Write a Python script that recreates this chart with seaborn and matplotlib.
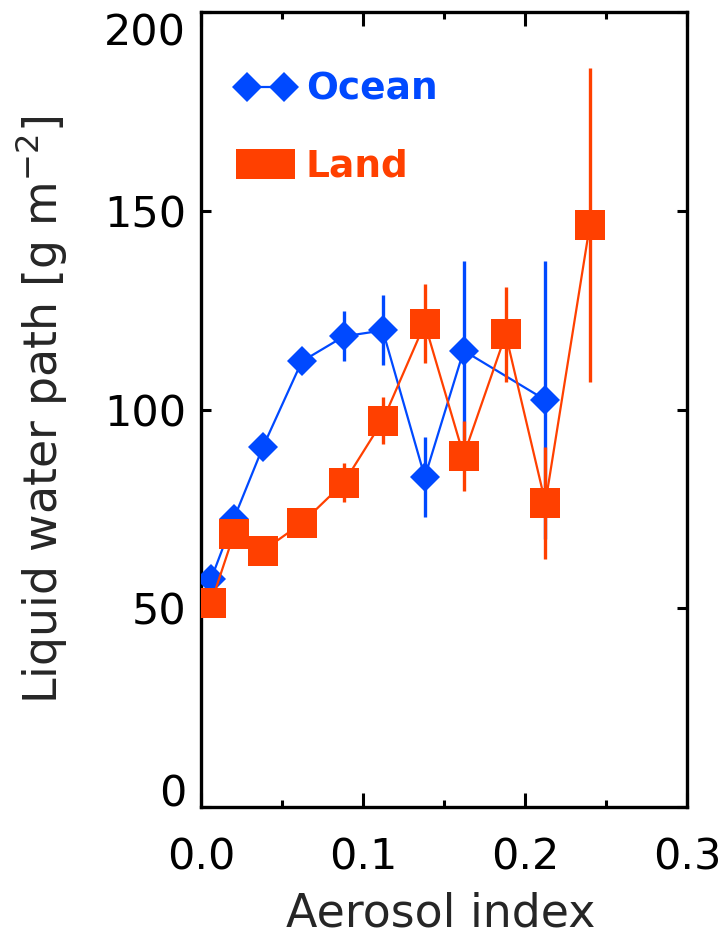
import matplotlib
matplotlib.use('Agg')
import matplotlib.pyplot as plt
import seaborn as sns
from matplotlib.ticker import MultipleLocator
from matplotlib.legend_handler import HandlerLine2D

# values
ocean_x = [0.006, 0.020, 0.038, 0.062, 0.088, 0.112, 0.138, 0.162, 0.2125]
ocean_lwp = [57.4, 72.5, 90.6, 112.1, 118.4, 119.9, 83.0, 114.8, 102.4]
ocean_err = [2, 2, 3, 3, 6.3, 8.8, 10.1, 22.5, 35.0]

land_x = [0.006, 0.020, 0.038, 0.062, 0.088, 0.112, 0.138, 0.162, 0.188, 0.2125, 0.240]
land_lwp = [51.4, 68.6, 64.5, 71.4, 81.6, 97.2, 121.6, 88.4, 118.9, 76.5, 146.5]
land_err = [2, 2, 2, 3, 4.9, 5.9, 9.9, 8.8, 12.0, 14.0, 39.5]

x_ticks = [0.0, 0.1, 0.2, 0.3]
x_tick_labels = ['0.0', '0.1', '0.2', '0.3']
y_ticks = [0, 50, 100, 150, 200]
y_tick_labels = ['0', '50', '100', '150', '200']

BLUE = '#0049FF'
ORANGE = '#FF4000'

sns.set_style('ticks')
plt.rcParams['font.family'] = ['DejaVu Sans']

fig = plt.figure(figsize=(7.25, 9.4), dpi=100)
ax = fig.add_axes([0.2779, 0.1415, 0.6697, 0.8457])

# ocean series
ax.errorbar(ocean_x, ocean_lwp, yerr=ocean_err, fmt='none', ecolor=BLUE,
            elinewidth=2.4, capsize=0, zorder=2)
sns.lineplot(x=ocean_x, y=ocean_lwp, ax=ax, color=BLUE, marker='D', markersize=15.5,
             markeredgewidth=0, linewidth=1.6, label='Ocean', sort=False,
             errorbar=None, zorder=3)

# land series on top
ax.errorbar(land_x, land_lwp, yerr=land_err, fmt='none', ecolor=ORANGE,
            elinewidth=2.4, capsize=0, zorder=4)
sns.lineplot(x=land_x, y=land_lwp, ax=ax, color=ORANGE, marker='s', markersize=22,
             markeredgewidth=0, linewidth=1.6, label='Land', sort=False,
             errorbar=None, zorder=5)

ax.set_xlim(0, 0.3)
ax.set_ylim(0, 200)
ax.set_xticks(x_ticks)
ax.set_xticklabels(x_tick_labels)
ax.xaxis.set_minor_locator(MultipleLocator(0.05))
ax.set_yticks(y_ticks)
ax.set_yticklabels(y_tick_labels)

for sp in ax.spines.values():
    sp.set_linewidth(2.4)
    sp.set_color('black')

ax.tick_params(which='both', direction='in', top=True, right=True, width=2.2,
               labelsize=31, colors='black')
ax.tick_params(axis='x', which='major', length=10, pad=21)
ax.tick_params(axis='x', which='minor', length=5)
ax.tick_params(axis='y', which='major', length=7.5, pad=11)

# end labels sit inside the axis range, as in the reference
ylabels = ax.get_yticklabels()
ylabels[0].set_verticalalignment('baseline')
ylabels[-1].set_verticalalignment('top')

ax.set_xlabel('Aerosol index', fontsize=33)
ax.set_ylabel('Liquid water path [g m$^{-2}$]', fontsize=33)
ax.xaxis.set_label_coords(0.493, -0.106)
ax.yaxis.set_label_coords(-0.272, 0.5)

handles, labels = ax.get_legend_handles_labels()
hmap = {handles[0]: HandlerLine2D(marker_pad=0.28),
        handles[1]: HandlerLine2D(marker_pad=0.40)}
ax.legend(handles, labels, loc='upper left', bbox_to_anchor=(0.072, 0.925),
          frameon=False, numpoints=2, handlelength=1.55, handletextpad=0.3,
          labelspacing=1.1, borderpad=0, borderaxespad=0, handler_map=hmap,
          prop={'weight': 'bold', 'size': 27}, labelcolor='linecolor')

fig.savefig('out.png', dpi=100)
